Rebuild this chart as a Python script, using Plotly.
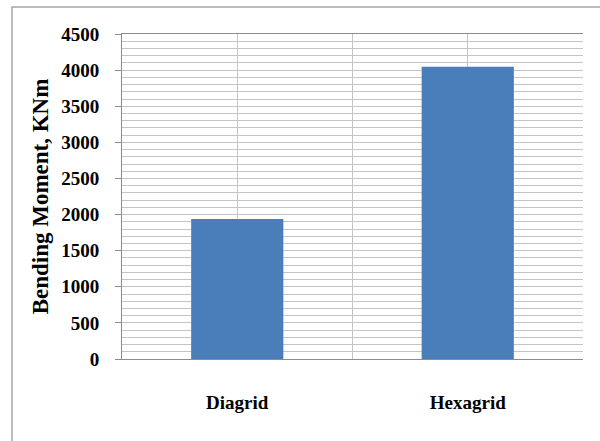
import plotly.graph_objects as go

categories = ["Diagrid", "Hexagrid"]
values = [1940, 4045]
y_ticks = [0, 500, 1000, 1500, 2000, 2500, 3000, 3500, 4000, 4500]

W, H = 600, 441
L, R, T, B = 122, 17, 34, 82
pw, ph = W - L - R, H - T - B

fig = go.Figure(go.Bar(x=categories, y=values, marker=dict(color="#4A7EBB", line=dict(width=0)),
                       width=0.4))

font_family = "Liberation Serif, Times New Roman, serif"
fig.update_layout(
    width=W, height=H,
    margin=dict(l=L, r=R, t=T, b=B),
    paper_bgcolor="white", plot_bgcolor="white",
    showlegend=False,
    font=dict(family=font_family, color="black"),
    xaxis=dict(
        type="category", range=[-0.5, 1.5],
        showgrid=True, gridcolor="#c4c4c4", gridwidth=1,
        showline=True, linecolor="#8c8c8c", linewidth=1, mirror=True,
        ticks="", ticklabelstandoff=26,
        tickfont=dict(size=19, weight="bold", family=font_family),
    ),
    yaxis=dict(
        range=[0, 4500], tickvals=y_ticks,
        showgrid=True, gridcolor="#c4c4c4", gridwidth=1,
        minor=dict(dtick=100, showgrid=True, gridcolor="#c4c4c4", gridwidth=1),
        showline=True, linecolor="#8c8c8c", linewidth=1,
        ticks="outside", ticklen=6, tickcolor="#8c8c8c",
        ticklabelstandoff=12,
        tickfont=dict(size=19, weight="bold", family=font_family),
        title=dict(text="Bending Moment, KNm", standoff=6,
                   font=dict(size=23, weight="bold", family=font_family)),
        zeroline=False,
    ),
)

# vertical gridline between categories
fig.add_shape(type="line", xref="x", yref="paper", x0=0.5, x1=0.5, y0=0, y1=1,
              line=dict(color="#c4c4c4", width=1), layer="below")

# outer chart border (top & left visible)
fig.add_shape(type="rect", xref="paper", yref="paper",
              x0=(12 - L) / pw, x1=(W + 5 - L) / pw,
              y0=(H - (H + 5) - B) / ph, y1=(H - 7 - B) / ph,
              line=dict(color="#a6a6a6", width=1.5), fillcolor="rgba(0,0,0,0)")

fig.write_html("out.html")
